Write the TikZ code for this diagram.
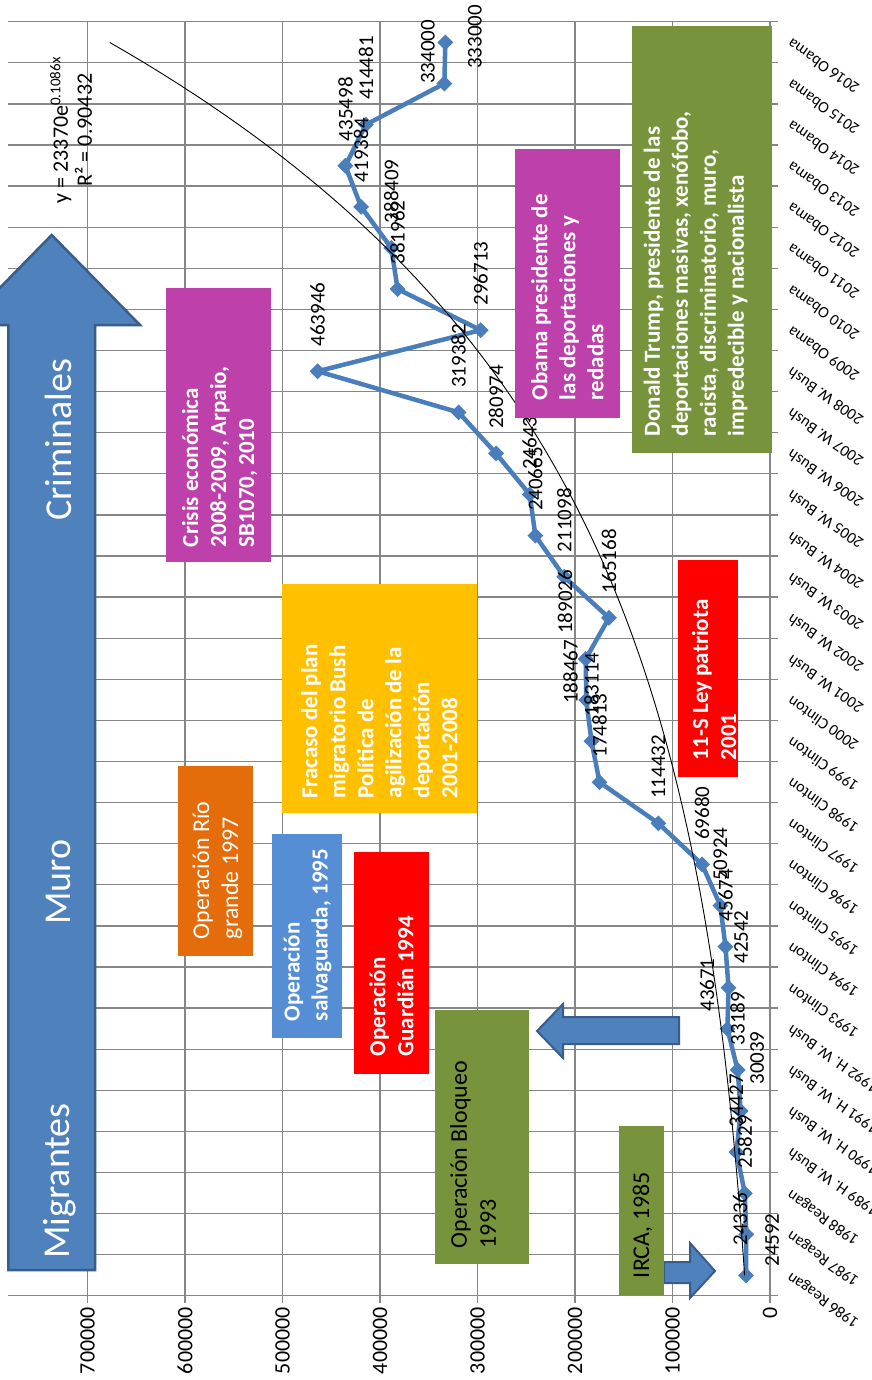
\documentclass[tikz,border=0pt]{standalone}
\usepackage{fontspec}
\setmainfont{Carlito}
\usetikzlibrary{shapes.geometric}
\definecolor{gridc}{RGB}{134,134,134}
\definecolor{ser}{RGB}{74,126,187}
\definecolor{arrfill}{RGB}{79,129,189}
\definecolor{arrline}{RGB}{56,93,138}
\definecolor{mag}{RGB}{190,64,170}
\definecolor{gold}{RGB}{255,192,0}
\definecolor{olive}{RGB}{119,147,60}
\definecolor{orng}{RGB}{228,108,10}
\definecolor{lblue}{RGB}{85,142,213}
\definecolor{redb}{RGB}{255,0,0}
\begin{document}
\begin{tikzpicture}[x=1pt,y=-1pt,
  gridl/.style={draw=gridc, line width=1.3pt},
  dlab/.style={rotate=90, font=\fontsize{21}{21}\selectfont, inner sep=0pt},
  ylab/.style={rotate=145, anchor=east, font=\fontsize{16}{16}\selectfont, inner sep=0pt},
  vlab/.style={rotate=90, anchor=east, font=\fontsize{22}{22}\selectfont, inner sep=0pt},
  boxfill/.style={rotate=90, inner sep=0pt, draw=none},
  txtb/.style={rotate=90, anchor=west, inner sep=0pt, align=left, text=white, font=\fontsize{23}{28}\selectfont\bfseries},
  txtr/.style={rotate=90, anchor=west, inner sep=0pt, align=left, font=\fontsize{24}{29}\selectfont},
  arrowshape/.style={fill=arrfill, draw=arrline, line width=2.5pt, line join=miter},
  mk/.style={diamond, fill=ser, inner sep=0pt, minimum size=16pt}
]
\useasboundingbox (0,0) rectangle (871,1380);
\fill[white] (0,0) rectangle (871,1380);

% grid
\foreach \j in {0,...,31} \draw[gridl] (8,{21.7+41.1*\j}) -- (778,{21.7+41.1*\j});
\foreach \k in {0,...,7} \draw[gridl] ({770-97.5*\k},21.7) -- ({770-97.5*\k},1303);

% data points
\foreach \v [count=\i from 0] in {24.592,24.336,25.829,34.427,30.039,33.189,43.671,42.542,45.674,50.924,69.680,114.432,174.813,183.114,188.467,189.026,165.168,211.098,240.665,246.431,280.974,319.382,463.946,296.713,381.962,388.409,419.384,435.498,414.481,334.000,333.000}
  \coordinate (p\i) at ({770-0.975*\v},{1296-41.1*(\i+0.5)});

\draw[ser, line width=4.5pt, line join=round] (p0) \foreach \i in {1,...,30} { -- (p\i) };
\foreach \i in {0,...,30} \node[mk] (m\i) at (p\i) {};

% trendline
\draw[black, line width=0.9pt] plot[domain=1:31, samples=120, variable=\t] ({770-22.786*exp(0.1086*\t)},{1296-41.1*(\t-0.5)});

% data labels
\node[dlab] (l0) at (772,1240) {24592};
\node[dlab] (l1) at (740,1219) {24336};
\node[dlab, anchor=west] (l2) at (744.8,1168.75) {25829};
\node[dlab, anchor=west] (l3) at (736.4,1127.65) {34427};
\node[dlab] (l4) at (757,1058) {30039};
\node[dlab, anchor=west] (l5) at (737.6,1045.45) {33189};
\node[dlab] (l6) at (707,985) {43671};
\node[dlab] (l7) at (741,937) {42542};
\node[dlab, anchor=west] (l8) at (725.5,922.15) {45674};
\node[dlab, anchor=west] (l9) at (720.3,881.05) {50924};
\node[dlab, anchor=west] (l10) at (702.1,839.95) {69680};
\node[dlab, anchor=west] (l11) at (658.4,798.85) {114432};
\node[dlab, anchor=west] (l12) at (599.6,757.75) {174813};
\node[dlab, anchor=west] (l13) at (591.5,716.65) {183114};
\node[dlab] (l14) at (570.5,672) {188467};
\node[dlab] (l15) at (565,602) {189026};
\node[dlab, anchor=west] (l16) at (609.0,593.35) {165168};
\node[dlab, anchor=west] (l17) at (564.2,552.25) {211098};
\node[dlab, anchor=west] (l18) at (535.4,511.15) {240665};
\node[dlab, anchor=west] (l19) at (529.7,470.05) {246431};
\node[dlab, anchor=west] (l20) at (496.1,428.95) {280974};
\node[dlab, anchor=west] (l21) at (458.6,387.85) {319382};
\node[dlab, anchor=west] (l22) at (317.6,346.75) {463946};
\node[dlab, anchor=west] (l23) at (480.7,305.65) {296713};
\node[dlab, anchor=west] (l24) at (397.6,264.55) {381962};
\node[dlab, anchor=west] (l25) at (391.3,223.45) {388409};
\node[dlab, anchor=west] (l26) at (361.1,182.35) {419384};
\node[dlab, anchor=west] (l27) at (345.4,141.25) {435498};
\node[dlab, anchor=west] (l28) at (365.9,100.15) {414481};
\node[dlab] (l29) at (428,52) {334000};
\node[dlab] (l30) at (475,37) {333000};

% value axis labels
\foreach \k/\t in {0/0,1/100000,2/200000,3/300000,4/400000,5/500000,6/600000,7/700000}
  \node[vlab] (v\k) at ({770-97.5*\k},1307) {\t};

% category labels
\foreach \lab [count=\i from 0] in {1986 Reagan,1987 Reagan,1988 Reagan,1989 H. W. Bush,1990 H. W. Bush,1991 H. W. Bush,1992 H. W. Bush,1993 Clinton,1994 Clinton,1995 Clinton,1996 Clinton,1997 Clinton,1998 Clinton,1999 Clinton,2000 Clinton,2001 W. Bush,2002 W. Bush,2003 W. Bush,2004 W. Bush,2005 W. Bush,2006 W. Bush,2007 W. Bush,2008 W. Bush,2009 Obama,2010 Obama,2011 Obama,2012 Obama,2013 Obama,2014 Obama,2015 Obama,2016 Obama}
  \node[ylab] (y\i) at (789,{1296-41.1*(\i+0.5)}) {\lab};

% equation
\node[rotate=90, align=center, inner sep=0pt, font=\fontsize{22}{24}\selectfont] (eq) at (71,130) {y = 23370e\textsuperscript{\fontsize{15}{15}\selectfont 0.1086x}\\R² = 0.90432};

% big arrow
\draw[arrowshape] (8.3,1270) -- (8.3,325) -- (-36.6,325) -- (51.7,235) -- (140,325) -- (95,325) -- (95,1270) -- cycle;
\node[rotate=90, text=white, inner sep=0pt, font=\fontsize{38}{38}\selectfont] (crim) at (58,440) {Criminales};
\node[rotate=90, text=white, inner sep=0pt, font=\fontsize{38}{38}\selectfont] (muro) at (58,882) {Muro};
\node[rotate=90, text=white, inner sep=0pt, font=\fontsize{38}{38}\selectfont] (migr) at (60,1181) {Migrantes};

% small arrows
\draw[arrowshape, line width=2pt] (679,1017) -- (563,1017) -- (563,1004) -- (537,1031) -- (563,1058) -- (563,1044) -- (679,1044) -- cycle;
\draw[arrowshape, line width=2pt] (664,1262) -- (690,1262) -- (690,1243) -- (715,1271) -- (690,1298) -- (690,1283) -- (664,1283) -- cycle;

% boxes
\node[boxfill, fill=mag, minimum width=274pt, minimum height=105pt] (bcrisis) at (218.5,425) {};
\node[txtb] (tcrisis) at ([yshift=15pt, xshift=1pt]bcrisis.west) {Crisis económica\\2008-2009, Arpaio,\\SB1070, 2010};

\node[boxfill, fill=gold, minimum width=229pt, minimum height=195pt] (bfrac) at (379.5,698.5) {};
\node[txtb] (tfrac) at ([yshift=15pt]bfrac.west) {Fracaso del plan\\migratorio Bush\\Política de\\agilización de la\\deportación\\2001-2008};

\node[boxfill, fill=redb, minimum width=217pt, minimum height=60pt] (bpat) at (708,668.5) {};
\node[txtb] (tpat) at ([yshift=17pt, xshift=6pt]bpat.west) {11-S Ley patriota\\2001};

\node[boxfill, fill=mag, minimum width=269pt, minimum height=105pt] (bobama) at (567.5,283.5) {};
\node[txtb] (tobama) at ([yshift=18pt]bobama.west) {Obama presidente de\\las deportaciones y\\redadas};

\node[boxfill, fill=olive, minimum width=427pt, minimum height=140pt] (btrump) at (701.7,239.5) {};
\node[txtb] (ttrump) at ([yshift=17pt, xshift=-6pt]btrump.west) {Donald Trump, presidente de las\\deportaciones masivas, xenófobo,\\racista, discriminatorio, muro,\\impredecible y nacionalista};

\node[boxfill, fill=orng, minimum width=190pt, minimum height=75pt] (brio) at (215.5,861) {};
\node[txtr, text=white] (trio) at ([yshift=17pt, xshift=2pt]brio.west) {Operación Río\\grande 1997};

\node[boxfill, fill=lblue, minimum width=204pt, minimum height=70pt] (bsalva) at (306.5,936) {};
\node[txtb] (tsalva) at ([yshift=17pt, xshift=1pt]bsalva.west) {Operación\\salvaguarda, 1995};

\node[boxfill, fill=redb, minimum width=222pt, minimum height=75.4pt] (bguard) at (391.3,963) {};
\node[txtb] (tguard) at ([yshift=18pt]bguard.west) {Operación\\Guardián 1994};

\node[boxfill, fill=olive, minimum width=254.5pt, minimum height=94pt] (bbloq) at (482,1137) {};
\node[txtr, text=black] (tbloq) at ([yshift=16pt, xshift=-9pt]bbloq.west) {Operación Bloqueo\\1993};

\node[boxfill, fill=olive, minimum width=169pt, minimum height=45pt] (birca) at (641.5,1210.5) {};
\node[txtr, text=black] (tirca) at ([yshift=17pt, xshift=1pt]birca.west) {IRCA, 1985};
\end{tikzpicture}
\end{document}
